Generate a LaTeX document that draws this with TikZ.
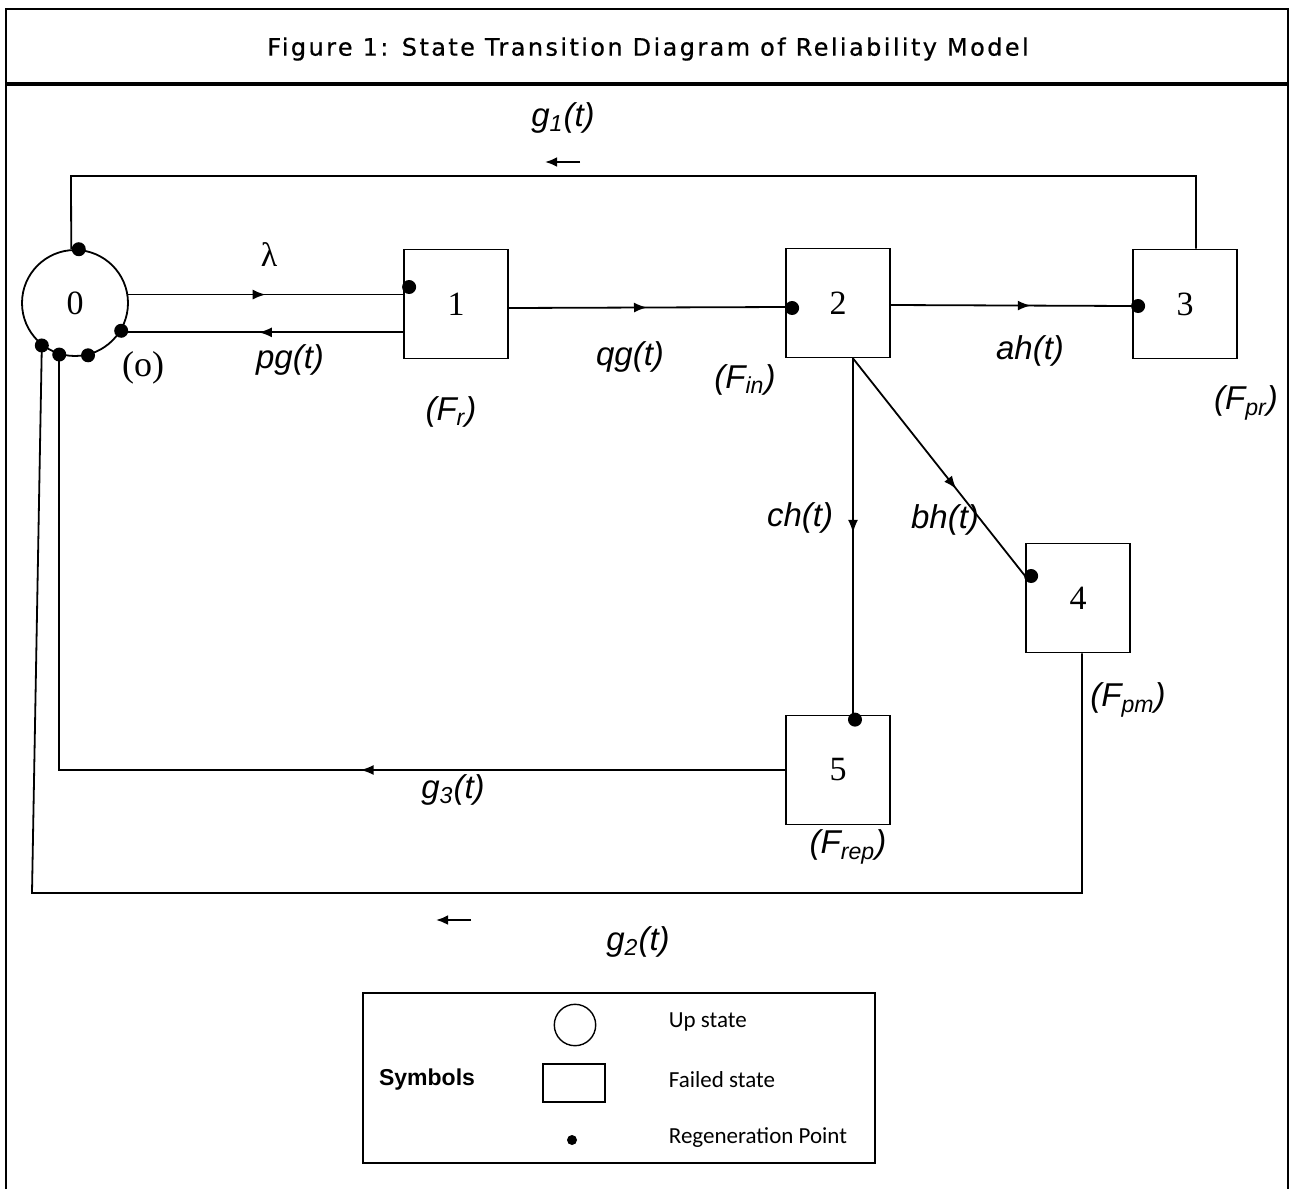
\documentclass[tikz,border=0pt]{standalone}
\usepackage{fontspec}
\setmainfont{Liberation Serif}
\setsansfont{Liberation Sans}
\newfontfamily\titlefont[LetterSpace=10, FakeBold=0.6]{DejaVu Sans}
\newfontfamily\legendfont{Carlito}
\usetikzlibrary{arrows.meta,positioning,decorations.markings,calc}

\begin{document}
\begin{tikzpicture}[
  x=0.5pt, y=-0.5pt, >=Latex,
  line width=0.9pt,
  every node/.style={inner sep=1pt},
  up/.style={circle, draw, line width=0.9pt, minimum size=53pt, inner sep=0pt, font=\fontsize{17}{17}\selectfont},
  failed/.style={rectangle, draw, line width=0.9pt, minimum width=52pt, minimum height=54.5pt, font=\fontsize{17}{17}\selectfont},
  regen/.style={circle, fill=black, inner sep=0pt, minimum size=7pt},
  lab/.style={font=\sffamily\itshape\fontsize{16.5}{18}\selectfont},
  flow/.style={postaction={decorate}, decoration={markings, mark=at position #1 with {\arrow{Latex[length=6.5pt, width=5pt]}}}},
  tick/.style={-{Latex[length=6pt, width=5pt]}, line width=1.2pt},
  key/.style={font=\legendfont\fontsize{11.5}{13}\selectfont, anchor=west, inner sep=0pt}
]
  \useasboundingbox (0,0) rectangle (1290,1189);
  % frame and caption
  \draw[line width=1pt] (6,1189) -- (6,9) -- (1288,9) -- (1288,1189);
  \draw[line width=1.6pt] (6,84) -- (1288,84);
  \node[font=\titlefont\fontsize{12}{14}\selectfont] (title) at (648,49) {Figure 1: State Transition Diagram of Reliability Model};

  % states
  \node[up] (s0) at (75,303) {0};
  \node[failed] (b1) at (456,304) {1};
  \node[failed] (b2) at (838,303) {2};
  \node[failed] (b3) at (1185,304) {3};
  \node[failed] (b4) at (1078,598) {4};
  \node[failed] (b5) at (838,770) {5};

  \coordinate (g1l) at (71,176);
  \coordinate (g1r) at (1196,176);
  \coordinate (g2l) at (32,893);

  % transitions
  \draw[flow=0.5] (s0.9) -- (s0.9 -| b1.west);
  \draw[flow=0.51] (s0.-33 -| b1.west) -- (s0.-33);
  \draw[flow=0.5] ([yshift=-2pt]b1.east) -- ([yshift=-2pt]b2.west);
  \draw[flow=0.58] ([yshift=-1pt]b2.east) -- ([yshift=-1pt]b3.west);
  \draw[flow=0.49] ([xshift=7.5pt]b2.south) -- ([xshift=7.5pt]b5.north);
  \draw[flow=0.6] ([xshift=7.5pt]b2.south) -- ([yshift=11pt]b4.west);
  \draw (s0.94) -- (g1l) -- (g1r) -- (g1r |- b3.north);
  \draw[flow=0.372] (b5.west) -| (s0.-107);
  \draw ([xshift=2pt]b4.south) |- (g2l) -- (s0.-128);

  % regeneration points
  \node[regen] (d0a) at (s0.86) {};
  \node[regen] (d0b) at (s0.-31) {};
  \node[regen] (d0c) at (s0.-76) {};
  \node[regen] (d0d) at (s0.-107) {};
  \node[regen] (d0e) at (s0.-128) {};
  \node[regen] (d1) at ([xshift=3pt,yshift=8.5pt]b1.west) {};
  \node[regen] (d2) at ([xshift=3.5pt,yshift=-2.5pt]b2.west) {};
  \node[regen] (d3) at ([xshift=3pt,yshift=-1pt]b3.west) {};
  \node[regen] (d4) at ([xshift=3pt,yshift=11pt]b4.west) {};
  \node[regen] (d5) at ([xshift=8.5pt,yshift=-2.5pt]b5.north) {};

  % rates
  \node[lab] (g1lab) at (563,118) {g\textsubscript{1}(t)};
  \coordinate (g1arr) at (580,162);
  \draw[tick] (g1arr) -- ++(-35,0);
  \node[font=\fontsize{17}{17}\selectfont] (lam) at (269,255) {λ};
  \node[lab] (pglab) at (290,360) {pg(t)};
  \node[font=\fontsize{18}{18}\selectfont] (olab) at (143,368) {(o)};
  \node[lab] (qglab) at (630,357) {qg(t)};
  \node[lab] (ahlab) at (1030,351) {ah(t)};
  \node[lab] (chlab) at (800,518) {ch(t)};
  \node[lab] (bhlab) at (945,520) {bh(t)};
  \node[lab] (g3lab) at (453,790) {g\textsubscript{3}(t)};
  \node[lab] (g2lab) at (638,942) {g\textsubscript{2}(t)};
  \coordinate (g2arr) at (471,920);
  \draw[tick] (g2arr) -- ++(-35,0);

  % state names
  \node[lab] (fr) at (451,412) {(F\textsubscript{r})};
  \node[lab] (fin) at (745,380) {(F\textsubscript{in})};
  \node[lab] (fpr) at (1246,403) {(F\textsubscript{pr})};
  \node[lab] (fpm) at (1128,700) {(F\textsubscript{pm})};
  \node[lab] (frep) at (848,847) {(F\textsubscript{rep})};

  % legend
  \node[draw, line width=0.8pt, minimum width=256pt, minimum height=85pt] (legend) at (619,1078) {};
  \node[font=\sffamily\bfseries\fontsize{11.5}{12}\selectfont] (sym) at (427,1080) {Symbols};
  \node[circle, draw, minimum size=20.7pt, inner sep=0pt, line width=0.7pt] (keyup) at (575,1025) {};
  \node[rectangle, draw, minimum width=31pt, minimum height=19pt, line width=0.9pt] (keyfail) at (574,1083) {};
  \node[regen, minimum size=5pt] (keyregen) at (572,1140) {};
  \node[key] (tup) at (668,1022) {Up state};
  \node[key] (tfail) at (668,1080) {Failed state};
  \node[key] (tregen) at (668,1138) {Regeneration Point};
\end{tikzpicture}
\end{document}
